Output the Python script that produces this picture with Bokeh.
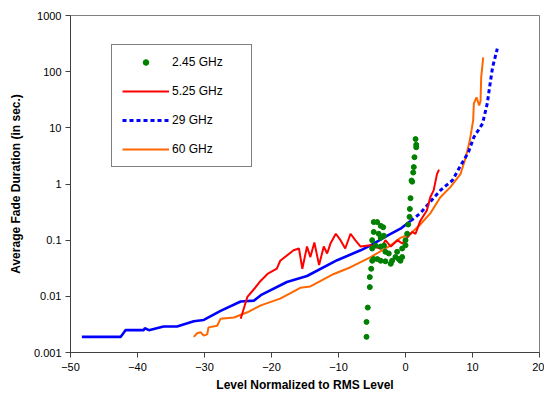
from bokeh.plotting import figure
from bokeh.models import Legend, LegendItem, FixedTicker, PrintfTickFormatter, Range1d
from bokeh.embed import file_html
from bokeh.resources import INLINE

# ---- data ----
blue_x = [-48.3, -42.5, -42.0, -41.8, -39.1, -38.9, -38.3, -36.1, -34.1, -31.6, -30.1, -27.6,
          -24.6, -22.6, -21.6, -17.7, -14.7, -10.2, -6.7, -5.2, -2.7, -0.75, 0.75, 2.2, 5.2,
          7.0, 8.2, 9.4, 10.2, 11.5, 12.2, 12.7, 13.0, 13.7]
blue_y = [0.0019, 0.0019, 0.0023, 0.0025, 0.0025, 0.0027, 0.0025, 0.0029, 0.0029, 0.0036, 0.0038,
          0.0055, 0.0081, 0.0084, 0.0105, 0.018, 0.023, 0.044, 0.066, 0.081, 0.12, 0.16, 0.22,
          0.30, 0.77, 1.16, 2.1, 3.7, 6.8, 11.9, 27, 70, 120, 257]

red_x = [-24.6, -23.6, -22.6, -21.6, -20.6, -19.2, -18.7, -16.7, -15.9, -15.4, -14.7, -14.2,
         -13.6, -12.9, -12.2, -11.7, -11.2, -10.4, -9.7, -9.0, -8.2, -7.5, -6.7, -5.2, -3.7,
         -3.0, -2.2, -1.2, -0.5, 1.0, 1.5, 2.2, 3.2, 3.7, 4.2, 4.7, 5.0]
red_y = [0.004, 0.0098, 0.0135, 0.019, 0.025, 0.031, 0.043, 0.066, 0.071, 0.031, 0.077, 0.05,
         0.091, 0.036, 0.077, 0.058, 0.087, 0.13, 0.10, 0.071, 0.13, 0.10, 0.077, 0.081, 0.07,
         0.10, 0.077, 0.10, 0.087, 0.14, 0.13, 0.22, 0.34, 0.58, 0.77, 1.5, 1.8]

orange_x = [-31.6, -31.1, -30.6, -30.1, -29.6, -29.4, -28.1, -27.6, -25.6, -23.6, -21.6, -18.7,
            -15.7, -14.2, -10.7, -8.2, -5.2, -2.2, -0.75, 0.75, 2.2, 3.7, 5.2, 6.7, 8.2, 9.0,
            9.6, 10.1, 10.2, 10.6, 11.0, 11.2, 11.3, 11.6]
orange_y = [0.0019, 0.0022, 0.0023, 0.0020, 0.0021, 0.0028, 0.0030, 0.0040, 0.0042, 0.0052,
            0.0069, 0.0091, 0.0142, 0.015, 0.025, 0.033, 0.05, 0.081, 0.11, 0.13, 0.19, 0.30,
            0.58, 0.88, 1.5, 3.0, 6.0, 13.6, 27, 35, 25, 30, 80, 180]

green_x = [-5.82, -5.82, -5.63, -5.33, -5.33, -5.12, -4.97, -4.74, -4.97, -4.97, -4.74, -4.74,
           -4.23, -3.7, -3.33, -4.0, -3.7, -3.23, -4.48, -3.7, -3.2, -3.0, -2.5, -4.2, -3.7,
           -3.0, -2.2, -2.0, -1.5, -1.0, -0.75, -0.5, -1.25, -0.5, 0.0, 0.0, 0.25, 0.4, 0.6,
           0.65, 0.75, 0.9, 1.0, 1.15, 1.24, 1.34, 1.6, 1.6, 1.5]
green_y = [0.0019, 0.0035, 0.0063, 0.0146, 0.022, 0.031, 0.043, 0.046, 0.071, 0.10, 0.14, 0.21,
           0.21, 0.18, 0.17, 0.13, 0.11, 0.12, 0.08, 0.077, 0.08, 0.062, 0.058, 0.046, 0.043,
           0.042, 0.038, 0.043, 0.05, 0.046, 0.043, 0.05, 0.062, 0.071, 0.081, 0.10, 0.13, 0.19,
           0.26, 0.36, 0.56, 1.15, 1.1, 1.6, 2.0, 3.0, 4.5, 5.0, 6.3]

x_ticks = [-50, -40, -30, -20, -10, 0, 10, 20]
y_ticks = [0.001, 0.01, 0.1, 1, 10, 100, 1000]
series_labels = ["2.45 GHz", "5.25 GHz", "29 GHz", "60 GHz"]

# dense part of the 29 GHz curve looks solid in the original (short segments), dashed after
split = 22

FONT = "Liberation Sans"

p = figure(width=544, height=395, y_axis_type="log", output_backend="svg",
           toolbar_location=None, x_range=Range1d(-50, 20), y_range=Range1d(0.001, 1000),
           min_border_left=70, min_border_right=5, min_border_top=15, min_border_bottom=43)
p.background_fill_color = "white"
p.border_fill_color = "white"
p.outline_line_color = "#808080"
p.outline_line_width = 1
p.xgrid.visible = False
p.ygrid.visible = False

r_orange = p.line(orange_x, orange_y, line_color="#FF6600", line_width=2)
p.line(blue_x[:split + 1], blue_y[:split + 1], line_color="#0000FF", line_width=2.6)
r_blue = p.line(blue_x[split:], blue_y[split:], line_color="#0000FF", line_width=3,
                line_dash="4 3")
r_red = p.line(red_x, red_y, line_color="#FF0000", line_width=2)
r_green = p.scatter(green_x, green_y, size=5, fill_color="#008000", line_color="#008000")

for ax in (p.xaxis[0], p.yaxis[0]):
    ax.axis_line_color = "#404040"
    ax.major_tick_line_color = "#404040"
    ax.major_tick_out = 5
    ax.major_tick_in = 0
    ax.minor_tick_line_color = None
    ax.major_label_text_font = FONT
    ax.major_label_text_font_size = "11px"
    ax.major_label_text_color = "black"
    ax.axis_label_text_font = FONT
    ax.axis_label_text_font_size = "12px"
    ax.axis_label_text_font_style = "bold"
    ax.axis_label_text_color = "black"

p.xaxis.ticker = FixedTicker(ticks=x_ticks)
p.yaxis.ticker = FixedTicker(ticks=y_ticks)
p.yaxis.formatter = PrintfTickFormatter(format="%g")
p.xaxis.axis_label = "Level Normalized to RMS Level"
p.yaxis.axis_label = "Average Fade Duration (in sec.)"
p.xaxis.axis_label_standoff = 4
p.yaxis.axis_label_standoff = 8
p.xaxis.major_label_standoff = 5
p.yaxis.major_label_standoff = 4

legend = Legend(items=[
    LegendItem(label=series_labels[0], renderers=[r_green]),
    LegendItem(label=series_labels[1], renderers=[r_red]),
    LegendItem(label=series_labels[2], renderers=[r_blue]),
    LegendItem(label=series_labels[3], renderers=[r_orange]),
], location=(41, 185))
legend.border_line_color = "black"
legend.border_line_width = 1
legend.background_fill_color = "white"
legend.background_fill_alpha = 1
legend.padding = 10
legend.margin = 0
legend.spacing = 15
legend.glyph_width = 47
legend.glyph_height = 14
legend.label_height = 14
legend.label_width = 69
legend.label_standoff = 3
legend.label_text_font = FONT
legend.label_text_font_size = "12px"
legend.label_text_color = "black"
p.add_layout(legend, "center")

open("out.html", "w").write(file_html(p, INLINE))
